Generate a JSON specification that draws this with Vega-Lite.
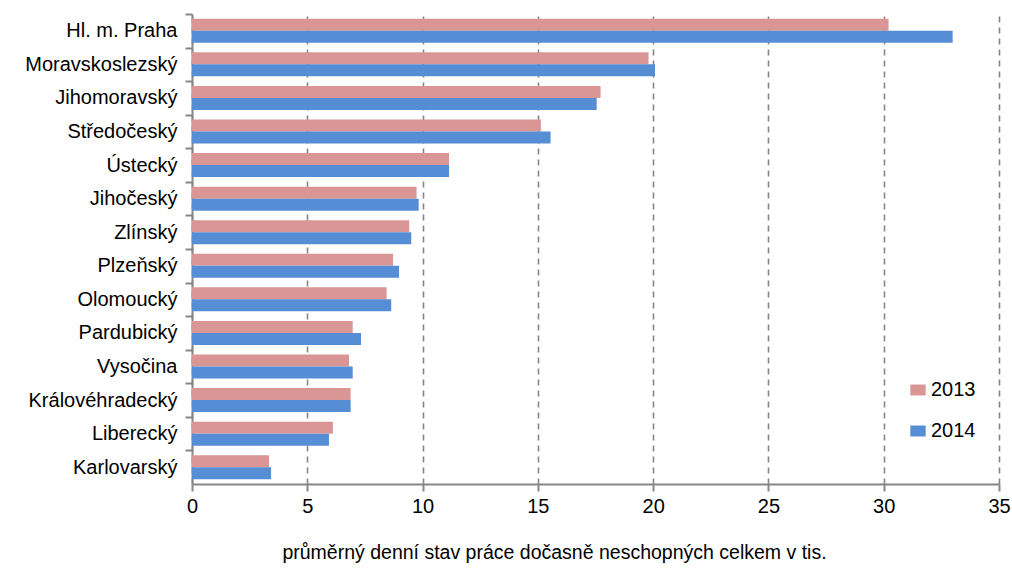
{
  "$schema": "https://vega.github.io/schema/vega-lite/v6.json",
  "autosize": {"type": "none"},
  "width": 807,
  "height": 470,
  "padding": {"left": 192, "top": 14, "right": 13, "bottom": 84},
  "background": "white",
  "config": {
    "view": {"stroke": null},
    "font": "Liberation Sans"
  },
  "data": {
    "values": [
      {"kraj": "Hl. m. Praha", "rok": "2013", "hodnota": 30.21},
      {"kraj": "Hl. m. Praha", "rok": "2014", "hodnota": 32.99},
      {"kraj": "Moravskoslezský", "rok": "2013", "hodnota": 19.8},
      {"kraj": "Moravskoslezský", "rok": "2014", "hodnota": 20.08},
      {"kraj": "Jihomoravský", "rok": "2013", "hodnota": 17.72},
      {"kraj": "Jihomoravský", "rok": "2014", "hodnota": 17.55},
      {"kraj": "Středočeský", "rok": "2013", "hodnota": 15.13},
      {"kraj": "Středočeský", "rok": "2014", "hodnota": 15.55},
      {"kraj": "Ústecký", "rok": "2013", "hodnota": 11.15},
      {"kraj": "Ústecký", "rok": "2014", "hodnota": 11.15},
      {"kraj": "Jihočeský", "rok": "2013", "hodnota": 9.74},
      {"kraj": "Jihočeský", "rok": "2014", "hodnota": 9.83},
      {"kraj": "Zlínský", "rok": "2013", "hodnota": 9.42},
      {"kraj": "Zlínský", "rok": "2014", "hodnota": 9.51},
      {"kraj": "Plzeňský", "rok": "2013", "hodnota": 8.72},
      {"kraj": "Plzeňský", "rok": "2014", "hodnota": 8.98},
      {"kraj": "Olomoucký", "rok": "2013", "hodnota": 8.44},
      {"kraj": "Olomoucký", "rok": "2014", "hodnota": 8.64},
      {"kraj": "Pardubický", "rok": "2013", "hodnota": 6.97},
      {"kraj": "Pardubický", "rok": "2014", "hodnota": 7.33},
      {"kraj": "Vysočina", "rok": "2013", "hodnota": 6.81},
      {"kraj": "Vysočina", "rok": "2014", "hodnota": 6.97},
      {"kraj": "Královéhradecký", "rok": "2013", "hodnota": 6.88},
      {"kraj": "Královéhradecký", "rok": "2014", "hodnota": 6.88},
      {"kraj": "Liberecký", "rok": "2013", "hodnota": 6.11},
      {"kraj": "Liberecký", "rok": "2014", "hodnota": 5.94},
      {"kraj": "Karlovarský", "rok": "2013", "hodnota": 3.34},
      {"kraj": "Karlovarský", "rok": "2014", "hodnota": 3.43}
    ]
  },
  "mark": {"type": "bar"},
  "encoding": {
    "y": {
      "field": "kraj",
      "type": "nominal",
      "sort": null,
      "scale": {"paddingInner": 0, "paddingOuter": 0},
      "axis": {
        "title": null,
        "domainColor": "#868686",
        "domainWidth": 2,
        "tickColor": "#868686",
        "tickWidth": 2,
        "tickSize": 7,
        "tickOffset": -16.8,
        "labelOffset": 16.8,
        "labelPadding": 8,
        "labelFontSize": 20,
        "labelColor": "#000000",
        "labelFont": "Liberation Sans"
      }
    },
    "yOffset": {
      "field": "rok",
      "type": "nominal",
      "scale": {"paddingInner": 0, "paddingOuter": 0.4}
    },
    "x": {
      "field": "hodnota",
      "type": "quantitative",
      "scale": {"domain": [0, 35], "nice": false},
      "axis": {
        "values": [0, 5, 10, 15, 20, 25, 30, 35],
        "title": "průměrný denní stav práce dočasně neschopných celkem v tis.",
        "titleFontSize": 19.5,
        "titleFontWeight": "normal",
        "titleColor": "#000000",
        "titlePadding": 27,
        "titleX": 362,
        "titleAnchor": "middle",
        "titleFont": "Liberation Sans",
        "domainColor": "#868686",
        "domainWidth": 2,
        "tickColor": "#868686",
        "tickWidth": 2,
        "tickSize": 7,
        "labelPadding": 5,
        "labelFontSize": 20,
        "labelColor": "#000000",
        "labelFont": "Liberation Sans",
        "grid": true,
        "gridColor": "#868686",
        "gridWidth": 1.6,
        "gridDash": [6, 5],
        "labelFlush": false
      }
    },
    "color": {
      "field": "rok",
      "type": "nominal",
      "scale": {"domain": ["2013", "2014"], "range": ["#D99694", "#558ED5"]},
      "legend": {
        "title": null,
        "orient": "none",
        "legendX": 716,
        "legendY": 366,
        "symbolType": "M-1.4,-1L1.4,-1L1.4,1L-1.4,1Z",
        "symbolSize": 120,
        "symbolStrokeWidth": 0,
        "labelFontSize": 20,
        "labelColor": "#000000",
        "labelFont": "Liberation Sans",
        "rowPadding": 21,
        "labelOffset": 3
      }
    }
  }
}
